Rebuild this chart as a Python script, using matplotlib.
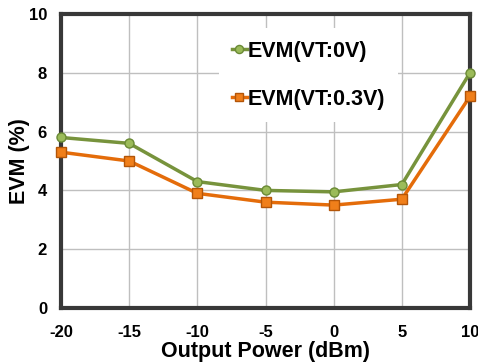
import matplotlib
import matplotlib.pyplot as plt

matplotlib.use("agg")

# data
power_dbm = [-20, -15, -10, -5, 0, 5, 10]
evm_vt0 = [5.8, 5.6, 4.3, 4.0, 3.95, 4.2, 8.0]
evm_vt03 = [5.3, 5.0, 3.9, 3.6, 3.5, 3.7, 7.2]
x_ticks = [-20, -15, -10, -5, 0, 5, 10]
y_ticks = [0, 2, 4, 6, 8, 10]

plt.rcParams["font.family"] = ["Liberation Sans", "DejaVu Sans"]
plt.rcParams["font.weight"] = "bold"
plt.rcParams["axes.unicode_minus"] = False

fig = plt.figure(figsize=(4.78, 3.62), dpi=100)
ax = fig.add_axes([61 / 478, 1 - 308 / 362, (470 - 61) / 478, (308 - 14) / 362])

ax.plot(
    power_dbm, evm_vt0, color="#77933c", linewidth=2.5, marker="o",
    markersize=6.5, markerfacecolor="#9bbb59", markeredgecolor="#6a8a35",
    markeredgewidth=1.0, label="EVM(VT:0V)", zorder=5, clip_on=False,
)
ax.plot(
    power_dbm, evm_vt03, color="#e46c0a", linewidth=2.5, marker="s",
    markersize=7, markerfacecolor="#f07f1a", markeredgecolor="#b35508",
    markeredgewidth=1.0, label="EVM(VT:0.3V)", zorder=5, clip_on=False,
)

ax.set_xlim(-20, 10)
ax.set_ylim(0, 10)
ax.set_xticks(x_ticks)
ax.set_yticks(y_ticks)
ax.tick_params(axis="both", length=0, labelsize=12)
ax.tick_params(axis="x", pad=12)
ax.tick_params(axis="y", pad=10)
for lbl in ax.get_xticklabels() + ax.get_yticklabels():
    lbl.set_fontweight("bold")

ax.grid(True, color="#bfbfbf", linewidth=1.0)
ax.set_axisbelow(True)
for sp in ax.spines.values():
    sp.set_color("#383838")
    sp.set_linewidth(3)

ax.set_xlabel("Output Power (dBm)", fontsize=15.5, fontweight="bold", va="center")
ax.set_ylabel("EVM (%)", fontsize=15.5, fontweight="bold", va="center")
ax.xaxis.set_label_coords(0.5, (308 - 351) / 294)
ax.yaxis.set_label_coords((20 - 61) / 409, 0.5)

leg = ax.legend(
    loc="upper left", bbox_to_anchor=(0.36, 0.99), frameon=True,
    prop={"size": 15.5, "weight": "bold"}, handlelength=0.7, handletextpad=0.05,
    labelspacing=1.25, borderpad=0.6, markerscale=0.9,
)
leg.get_frame().set_facecolor("white")
leg.get_frame().set_edgecolor("none")
leg.get_frame().set_alpha(1.0)

plt.savefig("out.png", dpi=100)
plt.close(fig)
